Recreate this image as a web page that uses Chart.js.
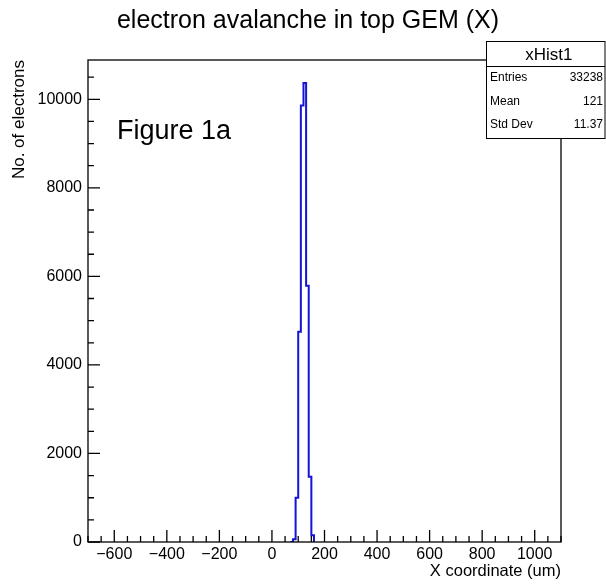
<!DOCTYPE html>
<html><head><meta charset="utf-8">
<script src="https://cdn.jsdelivr.net/npm/chart.js@4"></script>
<style>html,body{margin:0;padding:0;background:#fff}canvas{display:block}</style>
</head><body>
<canvas id="c" width="606" height="588"></canvas>
<script>
// ---- data ----
const binLowEdges = [80, 90, 100, 110, 120, 130, 140, 150];
const binWidth = 10;
const binCounts = [60, 1000, 4750, 9860, 10370, 5790, 1474, 150];
const xTickValues = [-600, -400, -200, 0, 200, 400, 600, 800, 1000];
const yTickValues = [0, 2000, 4000, 6000, 8000, 10000];
const xRange = [-700, 1100];
const yRange = [0, 10888];
const statsLabels = ['Entries', 'Mean', 'Std Dev'];
const statsValues = ['33238', '121', '11.37'];
const histName = 'xHist1';
const chartTitle = 'electron avalanche in top GEM (X)';
const xTitle = 'X coordinate (um)';
const yTitle = 'No. of electrons';
const annotationText = 'Figure 1a';

const FONT = "'Liberation Sans', Arial, sans-serif";

// step outline points (each point = lower edge of a bin)
const stepPoints = [{x: binLowEdges[0] - binWidth, y: 0}, {x: binLowEdges[0], y: 0}];
binLowEdges.forEach((e, i) => stepPoints.push({x: e, y: binCounts[i]}));
stepPoints.push({x: binLowEdges[binLowEdges.length - 1] + binWidth, y: 0});

const rootDecor = {
  id: 'rootDecor',
  afterDraw(chart) {
    const {ctx, chartArea: a, scales: {x, y}} = chart;
    ctx.save();
    // frame
    ctx.strokeStyle = '#000';
    ctx.lineWidth = 1.3;
    ctx.strokeRect(a.left, a.top, a.right - a.left, a.bottom - a.top);
    // inward ticks
    ctx.beginPath();
    for (let v = xRange[0]; v <= xRange[1]; v += 50) {
      const px = x.getPixelForValue(v);
      const len = (v % 200 === 0) ? 12 : 6;
      ctx.moveTo(px, a.bottom); ctx.lineTo(px, a.bottom - len);
    }
    for (let v = yRange[0]; v <= yRange[1]; v += 500) {
      const py = y.getPixelForValue(v);
      const len = (v % 2000 === 0) ? 12 : 6;
      ctx.moveTo(a.left, py); ctx.lineTo(a.left + len, py);
    }
    ctx.stroke();

    // title
    ctx.fillStyle = '#000';
    ctx.font = '25px ' + FONT;
    ctx.textAlign = 'center';
    ctx.textBaseline = 'middle';
    ctx.fillText(chartTitle, 308, 21);

    // annotation
    ctx.font = '27px ' + FONT;
    ctx.textAlign = 'left';
    ctx.textBaseline = 'alphabetic';
    ctx.fillText(annotationText, 117, 139);

    // stats box
    const bx = 486.5, by = 41.5, bw = 118.5, bh = 97;
    ctx.fillStyle = '#fff';
    ctx.fillRect(bx, by, bw, bh);
    ctx.lineWidth = 1;
    ctx.strokeStyle = '#000';
    ctx.strokeRect(bx, by, bw, bh);
    ctx.beginPath();
    ctx.moveTo(bx, 66.5); ctx.lineTo(bx + bw, 66.5);
    ctx.stroke();
    ctx.fillStyle = '#000';
    ctx.font = '17px ' + FONT;
    ctx.textAlign = 'center';
    ctx.textBaseline = 'alphabetic';
    ctx.fillText(histName, bx + bw / 2 + 3, 60);
    ctx.font = '12px ' + FONT;
    statsLabels.forEach((lab, i) => {
      const base = 81 + i * 23.5;
      ctx.textAlign = 'left';
      ctx.fillText(lab, 490, base);
      ctx.textAlign = 'right';
      ctx.fillText(statsValues[i], 603, base);
    });
    ctx.restore();
  }
};

new Chart(document.getElementById('c'), {
  type: 'line',
  data: {
    datasets: [{
      label: histName,
      data: stepPoints,
      stepped: 'before',
      borderColor: 'rgb(20,20,215)',
      borderWidth: 2,
      pointRadius: 0,
      fill: false,
      tension: 0
    }]
  },
  options: {
    responsive: false,
    animation: false,
    layout: {padding: {top: 60, right: 45, left: 0, bottom: 0}},
    plugins: {legend: {display: false}, title: {display: false}, tooltip: {enabled: false}},
    scales: {
      x: {
        type: 'linear',
        min: xRange[0], max: xRange[1],
        afterFit(s) { s.height = 46; },
        afterBuildTicks(s) { s.ticks = xTickValues.map(v => ({value: v})); },
        grid: {display: false, drawTicks: false},
        border: {display: false},
        ticks: {
          padding: 3, color: '#000', autoSkip: false, maxRotation: 0,
          font: {family: FONT, size: 16},
          callback: v => String(v).replace('-', '\u2212')
        },
        title: {display: true, text: xTitle, align: 'end', color: '#000',
                font: {family: FONT, size: 16.5}, padding: {top: 0, bottom: 7}}
      },
      y: {
        type: 'linear',
        min: yRange[0], max: yRange[1],
        afterFit(s) { s.width = 88; },
        afterBuildTicks(s) { s.ticks = yTickValues.map(v => ({value: v})); },
        grid: {display: false, drawTicks: false},
        border: {display: false},
        ticks: {padding: 6, color: '#000', font: {family: FONT, size: 16},
                callback: v => String(v)},
        title: {display: true, text: yTitle, align: 'end', color: '#000',
                font: {family: FONT, size: 17}, padding: {top: 9, bottom: 0}}
      }
    }
  },
  plugins: [rootDecor]
});
</script>
</body></html>
